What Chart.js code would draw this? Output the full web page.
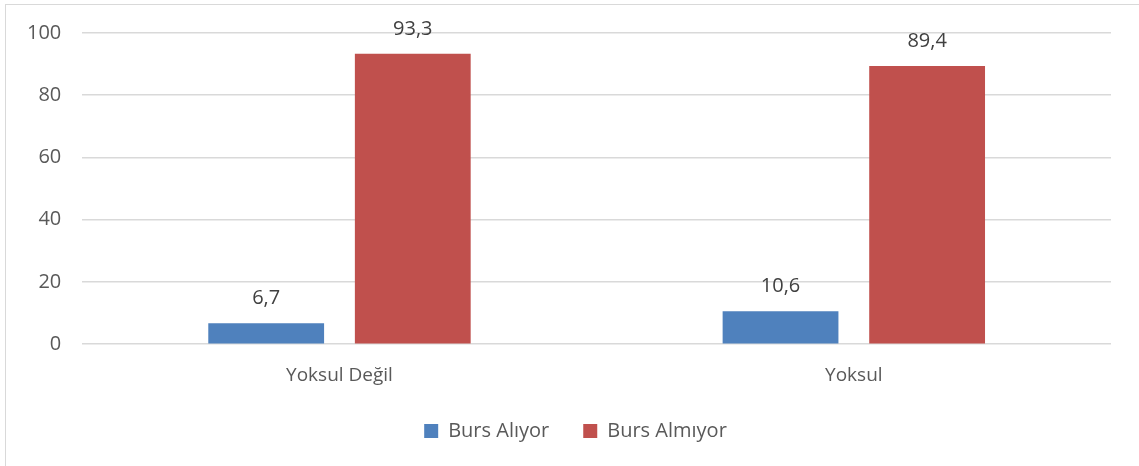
<!DOCTYPE html>
<html>
<head>
<meta charset="utf-8">
<script src="https://cdn.jsdelivr.net/npm/chart.js@4"></script>
<style>
  html, body { margin: 0; padding: 0; background: #fff; }
  #wrap { position: relative; width: 1139px; height: 466px; overflow: hidden; }
  #frame { position: absolute; left: 5px; top: 4px; width: 1200px; height: 600px; border: 1px solid #d9d9d9; pointer-events: none; }
</style>
</head>
<body>
<div id="wrap">
  <canvas id="grafik" width="1139" height="466"></canvas>
  <div id="frame"></div>
</div>
<script>
// Veriler
const kategoriler = ["Yoksul Değil", "Yoksul"];
const bursAliyor = [6.7, 10.6];
const bursAlmiyor = [93.3, 89.4];
const seriAdlari = ["Burs Alıyor", "Burs Almıyor"];
const yEksenDegerleri = [0, 20, 40, 60, 80, 100];

const yaziRengi = '#595959';
Chart.defaults.font.family = "'Open Sans', sans-serif";
Chart.defaults.font.size = 19;
Chart.defaults.color = yaziRengi;

// Çubukların üstüne değer yaz
const degerEtiketleri = {
    id: 'degerEtiketleri',
    afterDatasetsDraw(chart) {
        const ctx = chart.ctx;
        ctx.save();
        ctx.font = "20px 'Open Sans', sans-serif";
        ctx.fillStyle = '#404040';
        ctx.textAlign = 'center';
        ctx.textBaseline = 'middle';
        chart.data.datasets.forEach((ds, i) => {
            chart.getDatasetMeta(i).data.forEach((bar, j) => {
                const metin = ds.data[j].toFixed(1).replace('.', ',');
                ctx.fillText(metin, bar.x, bar.y - 25);
            });
        });
        ctx.restore();
    }
};

// Lejantı biraz yukarı ve sağa al (geniş aralık ama az yükseklik)
const lejantKaydir = {
    id: 'lejantKaydir',
    afterLayout(chart) {
        if (!chart.legend) return;
        chart.legend.top -= 20;
        chart.legend.bottom -= 20;
        chart.legend.left += 17;
        chart.legend.right += 17;
    }
};

new Chart(document.getElementById('grafik'), {
    type: 'bar',
    data: {
        labels: kategoriler,
        datasets: [{
            label: seriAdlari[0],
            data: bursAliyor,
            backgroundColor: '#4F81BD',
            categoryPercentage: 0.57,
            barPercentage: 0.79
        }, {
            label: seriAdlari[1],
            data: bursAlmiyor,
            backgroundColor: '#C0504D',
            categoryPercentage: 0.57,
            barPercentage: 0.79
        }]
    },
    options: {
        responsive: false,
        animation: false,
        layout: { padding: { left: 6, right: 28, top: 33, bottom: -5 } },
        plugins: {
            legend: {
                position: 'bottom',
                labels: {
                    boxWidth: 14,
                    boxHeight: 14,
                    padding: 34,
                    color: yaziRengi,
                    font: { size: 20 }
                }
            },
            tooltip: { enabled: false }
        },
        scales: {
            y: {
                min: 0,
                max: 100,
                afterBuildTicks: (axis) => { axis.ticks = yEksenDegerleri.map(v => ({ value: v })); },
                border: { display: false },
                grid: { color: '#d9d9d9', lineWidth: 1.5, drawTicks: false },
                ticks: { padding: 21, color: yaziRengi, font: { size: 20 } }
            },
            x: {
                border: { display: false },
                grid: { display: false, drawTicks: false },
                ticks: { padding: 20, color: yaziRengi, font: { size: 19 } }
            }
        }
    },
    plugins: [degerEtiketleri, lejantKaydir]
});
</script>
</body>
</html>
